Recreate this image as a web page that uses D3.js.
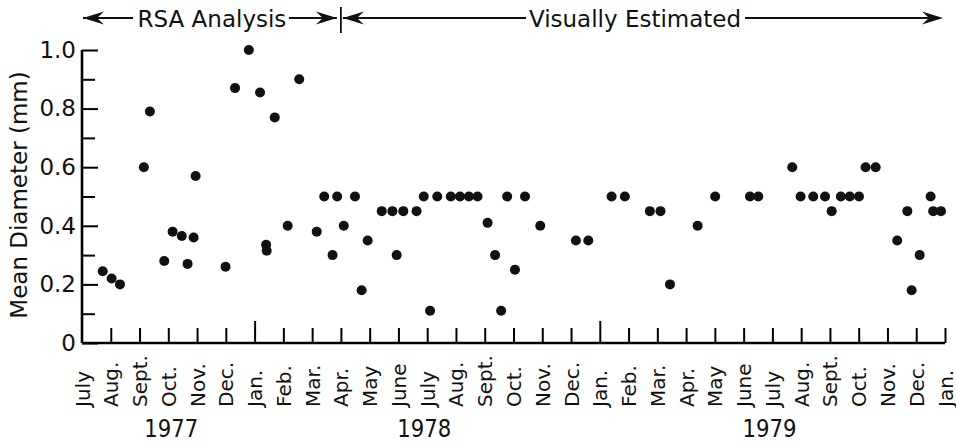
<!DOCTYPE html>
<html>
<head>
<meta charset="utf-8">
<script src="https://cdn.jsdelivr.net/npm/d3@7/dist/d3.min.js"></script>
<style>
  body { margin: 0; background: #fff; }
  svg { display: block; font-family: "DejaVu Sans", sans-serif; }
</style>
</head>
<body>
<div class="content"></div>
<script>
///////////////////////////////////////////////////////////////////
//DATA/////////////////////////////////////////////////////////////

// months counted from the start of July 1977
var sampleMonth = [
  0.72, 1.03, 1.32, 2.15, 2.36, 2.86, 3.15, 3.47, 3.67, 3.88, 3.95, 4.99,
  5.32, 5.80, 6.19, 6.40, 6.42, 6.70, 7.15, 7.55, 8.16, 8.42, 8.71, 8.87,
  9.10, 9.49, 9.72, 9.93, 10.42, 10.79, 10.94, 11.17, 11.63, 11.88, 12.10,
  12.35, 12.82, 13.14, 13.45, 13.75, 14.10, 14.36, 14.57, 14.78, 15.05,
  15.40, 15.93, 17.17, 17.60, 18.41, 18.87, 19.74, 20.11, 20.44, 21.40,
  22.01, 23.22, 23.51, 24.69, 24.98, 25.42, 25.83, 26.06, 26.38, 26.69,
  27.01, 27.24, 27.59, 28.34, 28.69, 28.84, 29.12, 29.50, 29.59, 29.86
];
var meanDiameter = [
  0.245, 0.22, 0.20, 0.60, 0.79, 0.28, 0.38, 0.365, 0.27, 0.36, 0.57, 0.26,
  0.87, 1.00, 0.855, 0.335, 0.315, 0.77, 0.40, 0.90, 0.38, 0.50, 0.30, 0.50,
  0.40, 0.50, 0.18, 0.35, 0.45, 0.45, 0.30, 0.45, 0.45, 0.50, 0.11,
  0.50, 0.50, 0.50, 0.50, 0.50, 0.41, 0.30, 0.11, 0.50, 0.25,
  0.50, 0.40, 0.35, 0.35, 0.50, 0.50, 0.45, 0.45, 0.20, 0.40,
  0.50, 0.50, 0.50, 0.60, 0.50, 0.50, 0.50, 0.45, 0.50, 0.50,
  0.50, 0.60, 0.60, 0.35, 0.45, 0.18, 0.30, 0.50, 0.45, 0.45
];

var monthLabels = ["July", "Aug.", "Sept.", "Oct.", "Nov.", "Dec.",
  "Jan.", "Feb.", "Mar.", "Apr.", "May", "June",
  "July", "Aug.", "Sept.", "Oct.", "Nov.", "Dec.",
  "Jan.", "Feb.", "Mar.", "Apr.", "May", "June",
  "July", "Aug.", "Sept.", "Oct.", "Nov.", "Dec.", "Jan."];
var yearLabels = ["1977", "1978", "1979"];
var yTicks = [0, 0.1, 0.2, 0.3, 0.4, 0.5, 0.6, 0.7, 0.8, 0.9, 1.0];

///////////////////////////////////////////////////////////////////
//PAGE SETUP///////////////////////////////////////////////////////
var width = 956;
var height = 443;
var plotLeft = 82, plotRight = 945, plotTop = 50, plotBottom = 343;
var yearPos = [3.1, 11.9, 23.9];   // centre of each year label, in months
var splitMonth = 9;                // April 1978

var x = d3.scaleLinear().domain([0, 30]).range([plotLeft, plotRight]);
var y = d3.scaleLinear().domain([0, 1]).range([plotBottom, plotTop]);

var svg = d3.select(".content").append("svg")
  .attr("width", width).attr("height", height);

//Y AXIS///////////////////////////////////////////////////////////
var yAxis = svg.append("g").attr("transform", "translate(" + plotLeft + ",0)")
  .call(d3.axisLeft(y).tickValues(yTicks).tickSize(-15).tickSizeOuter(0).tickPadding(6)
    .tickFormat(function(d, i){
      if (i % 2) return "";
      return d === 0 ? "0" : d.toFixed(1);
    }));
yAxis.select(".domain").attr("stroke-width", 2.6).attr("d", "M0," + plotTop + "V" + plotBottom);
yAxis.selectAll(".tick line").attr("stroke-width", 2)
  .attr("x2", function(d, i){ return i % 2 ? 13 : 16; });
yAxis.selectAll(".tick text").attr("font-size", 23).attr("font-family", "DejaVu Sans")
  .attr("fill", "#111");

//X AXIS///////////////////////////////////////////////////////////
var xAxis = svg.append("g").attr("transform", "translate(0," + plotBottom + ")")
  .call(d3.axisBottom(x).tickValues(d3.range(0, 31)).tickSize(-14).tickSizeOuter(0)
    .tickFormat(function(d){ return monthLabels[d]; }));
xAxis.select(".domain").attr("stroke-width", 2.6).attr("d", "M" + plotLeft + ",0H" + plotRight);
xAxis.selectAll(".tick line").attr("stroke-width", 2)
  .attr("y2", function(d){ return d === 0 ? 0 : (monthLabels[d] === "Jan." && d < 30 ? -22 : -15); });
xAxis.selectAll(".tick text")
  .attr("font-size", 20).attr("font-family", "DejaVu Sans").attr("fill", "#111")
  .attr("transform", "rotate(-90)")
  .attr("x", -64).attr("y", 7).attr("dy", 0)
  .style("text-anchor", "start");

svg.append("g").selectAll(".year").data(yearLabels)
  .enter().append("text").attr("class", "year")
  .attr("x", function(d, i){ return x(yearPos[i]); })
  .attr("y", 437)
  .attr("text-anchor", "middle")
  .attr("font-size", 24)
  .attr("textLength", 54).attr("lengthAdjust", "spacingAndGlyphs")
  .attr("fill", "#111")
  .text(function(d){ return d; });

//Y TITLE//////////////////////////////////////////////////////////
svg.append("text")
  .attr("transform", "translate(27," + 195 + ") rotate(-90)")
  .attr("text-anchor", "middle")
  .attr("font-size", 23)
  .attr("fill", "#111")
  .text("Mean Diameter (mm)");

//TOP ANNOTATION///////////////////////////////////////////////////
var arrowY = 18;
function arrowHead(tipX, dir){
  // dir = 1 points right, -1 points left
  var len = 21, half = 6.5, notch = 7;
  return "M" + tipX + "," + arrowY +
    "L" + (tipX - dir * len) + "," + (arrowY - half) +
    "L" + (tipX - dir * (len - notch)) + "," + arrowY +
    "L" + (tipX - dir * len) + "," + (arrowY + half) + "Z";
}
var note = svg.append("g").attr("class", "annotation");
var xa = x(0) + 1, xs = x(splitMonth), xb = x(30) - 2;

note.append("line").attr("x1", xa).attr("x2", xa + 50).attr("y1", arrowY).attr("y2", arrowY)
  .attr("stroke", "#111").attr("stroke-width", 2);
note.append("line").attr("x1", xs - 52).attr("x2", xs - 4).attr("y1", arrowY).attr("y2", arrowY)
  .attr("stroke", "#111").attr("stroke-width", 2);
note.append("line").attr("x1", xs + 2).attr("x2", 526).attr("y1", arrowY).attr("y2", arrowY)
  .attr("stroke", "#111").attr("stroke-width", 2);
note.append("line").attr("x1", 745).attr("x2", xb - 4).attr("y1", arrowY).attr("y2", arrowY)
  .attr("stroke", "#111").attr("stroke-width", 2);
note.append("line").attr("x1", xs).attr("x2", xs).attr("y1", 7).attr("y2", 33)
  .attr("stroke", "#111").attr("stroke-width", 1.8);

note.append("path").attr("d", arrowHead(xa, -1)).attr("fill", "#111");
note.append("path").attr("d", arrowHead(xs - 4, 1)).attr("fill", "#111");
note.append("path").attr("d", arrowHead(xs + 2, -1)).attr("fill", "#111");
note.append("path").attr("d", arrowHead(xb, 1)).attr("fill", "#111");

note.append("text").attr("x", (xa + xs) / 2).attr("y", 27)
  .attr("text-anchor", "middle").attr("font-size", 23).attr("fill", "#111")
  .text("RSA Analysis");
note.append("text").attr("x", 635).attr("y", 27)
  .attr("text-anchor", "middle").attr("font-size", 23).attr("fill", "#111")
  .text("Visually Estimated");

//POINTS///////////////////////////////////////////////////////////
svg.append("g").attr("class", "points")
  .selectAll("circle").data(meanDiameter)
  .enter().append("circle")
  .attr("cx", function(d, i){ return x(sampleMonth[i]); })
  .attr("cy", function(d){ return y(d); })
  .attr("r", 5)
  .attr("fill", "#111");
</script>
</body>
</html>
